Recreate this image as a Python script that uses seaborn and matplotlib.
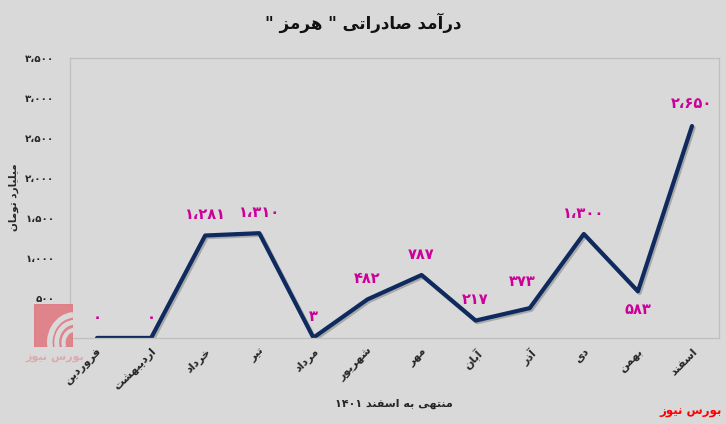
import matplotlib

matplotlib.use("Agg")
import matplotlib.pyplot as plt
import matplotlib.patheffects as pe
from matplotlib.patches import Arc, Rectangle
import numpy as np
import pandas as pd
import seaborn as sns

# ---- data -------------------------------------------------------------
months = ["فروردین", "اردیبهشت", "خرداد", "تیر", "مرداد", "شهریور",
          "مهر", "آبان", "آذر", "دی", "بهمن", "اسفند"]
revenue = [0, 0, 1281, 1310, 3, 482, 787, 217, 373, 1300, 583, 2650]
y_ticks = [0, 500, 1000, 1500, 2000, 2500, 3000, 3500]

title = 'درآمد صادراتی " هرمز "'
y_label = "میلیارد تومان"
x_label = "منتهی به اسفند ۱۴۰۱"
brand = "بورس نیوز"

# ---- tiny persian shaper (matplotlib has no shaping / bidi) -----------
# (isolated, final, initial, medial)
FORMS = {
    "ا": ("\uFE8D", "\uFE8E", None, None),
    "آ": ("\uFE81", "\uFE82", None, None),
    "ب": ("\uFE8F", "\uFE90", "\uFE91", "\uFE92"),
    "ت": ("\uFE95", "\uFE96", "\uFE97", "\uFE98"),
    "خ": ("\uFEA5", "\uFEA6", "\uFEA7", "\uFEA8"),
    "د": ("\uFEA9", "\uFEAA", None, None),
    "ذ": ("\uFEAB", "\uFEAC", None, None),
    "ر": ("\uFEAD", "\uFEAE", None, None),
    "ز": ("\uFEAF", "\uFEB0", None, None),
    "س": ("\uFEB1", "\uFEB2", "\uFEB3", "\uFEB4"),
    "ش": ("\uFEB5", "\uFEB6", "\uFEB7", "\uFEB8"),
    "ص": ("\uFEB9", "\uFEBA", "\uFEBB", "\uFEBC"),
    "ف": ("\uFED1", "\uFED2", "\uFED3", "\uFED4"),
    "ل": ("\uFEDD", "\uFEDE", "\uFEDF", "\uFEE0"),
    "م": ("\uFEE1", "\uFEE2", "\uFEE3", "\uFEE4"),
    "ن": ("\uFEE5", "\uFEE6", "\uFEE7", "\uFEE8"),
    "و": ("\uFEED", "\uFEEE", None, None),
    "ه": ("\uFEE9", "\uFEEA", "\uFEEB", "\uFEEC"),
    "ی": ("\uFEEF", "\uFEF0", "\uFEF3", "\uFEF4"),
}
DIGITS = set("۰۱۲۳۴۵۶۷۸۹0123456789،")


def fa(text):
    out = []
    for i, ch in enumerate(text):
        if ch not in FORMS:
            out.append(ch)
            continue
        prev = text[i - 1] if i > 0 else ""
        nxt = text[i + 1] if i + 1 < len(text) else ""
        join_prev = prev in FORMS and FORMS[prev][2] is not None
        join_next = FORMS[ch][2] is not None and nxt in FORMS
        iso, fin, ini, med = FORMS[ch]
        if join_prev and join_next:
            out.append(med)
        elif join_prev:
            out.append(fin)
        elif join_next:
            out.append(ini)
        else:
            out.append(iso)
    # visual order: reverse, but keep number runs left-to-right
    rev = "".join(reversed(out))
    res, run = [], []
    for ch in rev:
        if ch in DIGITS:
            run.append(ch)
        else:
            res.extend(reversed(run))
            run = []
            res.append(ch)
    res.extend(reversed(run))
    return "".join(res)


def fa_num(v):
    s = f"{v:,}".replace(",", "،")
    return s.translate(str.maketrans("0123456789", "۰۱۲۳۴۵۶۷۸۹"))


# ---- plot -------------------------------------------------------------
sns.set_theme(style="white")
plt.rcParams["font.family"] = ["DejaVu Sans"]
plt.rcParams["font.weight"] = "bold"

bg = "#d9d9d9"
fig = plt.figure(figsize=(7.26, 4.24), dpi=100, facecolor=bg)
ax = fig.add_axes([0.0964, 0.203, 0.894, 0.660], facecolor=bg)

df = pd.DataFrame({"pos": np.arange(len(months)), "value": revenue})
sns.lineplot(data=df, x="pos", y="value", sort=False, color="#0f2a5e",
             linewidth=3.0, ax=ax,
             path_effects=[pe.SimpleLineShadow(offset=(1.2, -1.2), alpha=0.25),
                           pe.Normal()])

ax.set_xlim(-0.5, len(months) - 0.5)
ax.set_ylim(0, 3500)
ax.set_yticks(y_ticks)
ax.set_yticklabels([fa_num(v) for v in y_ticks], fontsize=7.5, fontweight="bold")
ax.set_xticks(df["pos"])
ax.set_xticklabels([fa(m) for m in months], rotation=45, ha="right",
                   rotation_mode="anchor", fontsize=8, fontweight="bold")
ax.tick_params(axis="y", length=0, pad=11)
ax.tick_params(axis="x", length=0, pad=6)
ax.set_xlabel("")
ax.set_ylabel("")
for sp in ax.spines.values():
    sp.set_color("#bfbfbf")
    sp.set_linewidth(0.9)

offsets = [(0, 15)] * len(revenue)
offsets[8] = (-5, 19)
offsets[10] = (0, -13)
offsets[11] = (0, 16)
for i, v in enumerate(revenue):
    ax.annotate(fa_num(v), (i, v), textcoords="offset points", xytext=offsets[i],
                ha="center", va="center", color="#cc0099", fontsize=10.5,
                fontweight="bold")

fig.text(0.5, 0.945, fa(title), ha="center", va="center", fontsize=12,
         fontweight="bold", color="#111111")
fig.text(0.019, 0.535, fa(y_label), rotation=90, ha="center", va="center",
         fontsize=7.5, fontweight="bold")
fig.text(0.543, 0.047, fa(x_label), ha="center", va="center", fontsize=8,
         fontweight="bold")
fig.text(0.994, 0.03, fa(brand), ha="right", va="center", fontsize=8.5,
         fontweight="bold", color="#ff0000")

# watermark logo, rough
logo = fig.add_axes([0.047, 0.182, 0.054, 0.101], zorder=5)
logo.set_xlim(0, 1)
logo.set_ylim(0, 1)
logo.axis("off")
logo.add_patch(Rectangle((0, 0), 1, 1, color="#e07b82", alpha=0.9))
for r, w in [(1.3, 4), (0.95, 3.5), (0.6, 3)]:
    logo.add_patch(Arc((1.05, 0.1), r, r, theta1=95, theta2=200, color=bg, lw=w))
fig.text(0.075, 0.155, fa(brand), ha="center", va="center", fontsize=8,
         color="#e07b82", alpha=0.5, zorder=6)

fig.savefig("out.png", dpi=100, facecolor=bg)
